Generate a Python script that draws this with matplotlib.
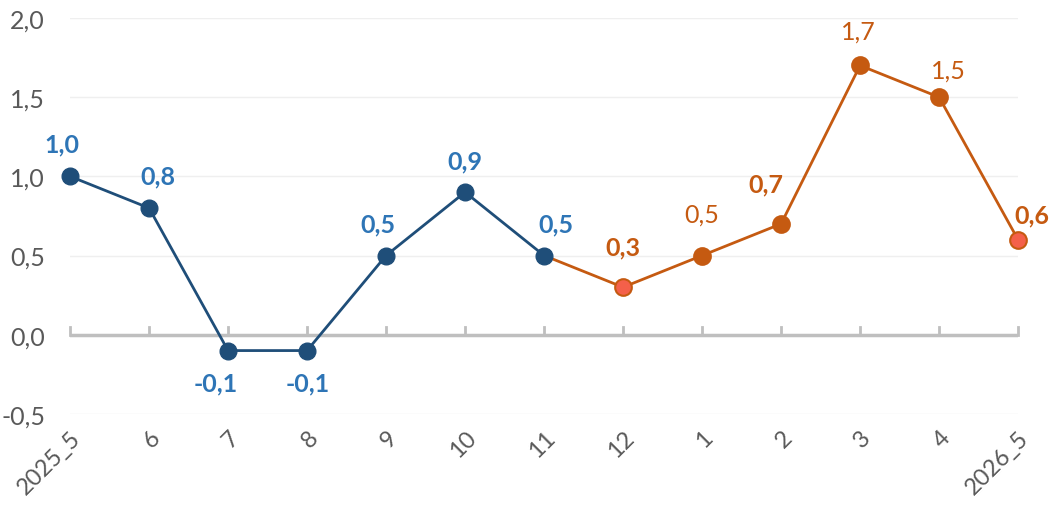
import matplotlib.pyplot as plt

plt.rcParams['font.family'] = ['Lato', 'DejaVu Sans']

months = ['2025_5', '6', '7', '8', '9', '10', '11', '12', '1', '2', '3', '4', '2026_5']
actual = [1.0, 0.8, -0.1, -0.1, 0.5, 0.9, 0.5]
forecast = [0.5, 0.3, 0.5, 0.7, 1.7, 1.5, 0.6]
bold_fc = [False, True, False, True, False, False, True]

blue_line = '#1F4E79'
blue_text = '#2E75B6'
orange = '#C55A11'
red_fill = '#F4604A'

fig = plt.figure(figsize=(10.55, 5.06), dpi=100)
ax = fig.add_axes([0.0664, 0.18, 0.8986, 0.7825])

x_act = list(range(len(actual)))
x_fc = list(range(len(actual) - 1, len(months)))

ax.plot(x_fc, forecast, color=orange, lw=2, zorder=3, clip_on=False)
ax.plot(x_act, actual, color=blue_line, lw=2, marker='o', ms=12,
        zorder=4, clip_on=False)
for x, v in zip(x_fc[1:], forecast[1:]):
    fc = red_fill if x in (7, 12) else orange
    ax.plot(x, v, marker='o', ms=12, mfc=fc, mec=orange, mew=1.5,
            zorder=5, clip_on=False)

# label offsets in pixels
act_off = [(-8, 32), (9, 32), (-12, -32), (1, -32), (-8, 32), (0, 31), (12, 32)]
fc_off = [(0, 40), (0, 41), (-15, 40), (-2, 34), (9, 27), (14, 25)]

def fmt(v):
    return f'{v:.1f}'.replace('.', ',')

for x, v, (dx, dy) in zip(x_act, actual, act_off):
    ax.annotate(fmt(v), (x, v), xytext=(dx, dy), textcoords='offset pixels',
                ha='center', va='center', color=blue_text, fontsize=18,
                fontweight='bold', zorder=6)
for x, v, b, (dx, dy) in zip(x_fc[1:], forecast[1:], bold_fc[1:], fc_off):
    ax.annotate(fmt(v), (x, v), xytext=(dx, dy), textcoords='offset pixels',
                ha='center', va='center', color=orange, fontsize=18,
                fontweight='bold' if b else 'normal', zorder=6)

ax.set_xlim(0, len(months) - 1)
ax.set_ylim(-0.5, 2.0)
ax.set_yticks([-0.5, 0.0, 0.5, 1.0, 1.5, 2.0])
ax.set_yticklabels([fmt(t) for t in ax.get_yticks()])
for t in [-0.5, 0.5, 1.0, 1.5, 2.0]:
    ax.axhline(t, color='#EFEFEF', lw=1, zorder=0)
ax.axhline(0, color='#BFBFBF', lw=2.5, zorder=1)
for x in range(len(months)):
    ax.plot([x, x], [0, 0.05], color='#BFBFBF', lw=2, zorder=1, clip_on=False)

ax.set_xticks(range(len(months)))
ax.set_xticklabels(months, rotation=45, ha='right', rotation_mode='anchor')
ax.tick_params(axis='both', length=0, labelsize=18, labelcolor='#595959')
ax.tick_params(axis='x', pad=9, labelsize=17)
ax.tick_params(axis='y', pad=18)
for s in ax.spines.values():
    s.set_visible(False)

fig.savefig('out.png', dpi=100)
